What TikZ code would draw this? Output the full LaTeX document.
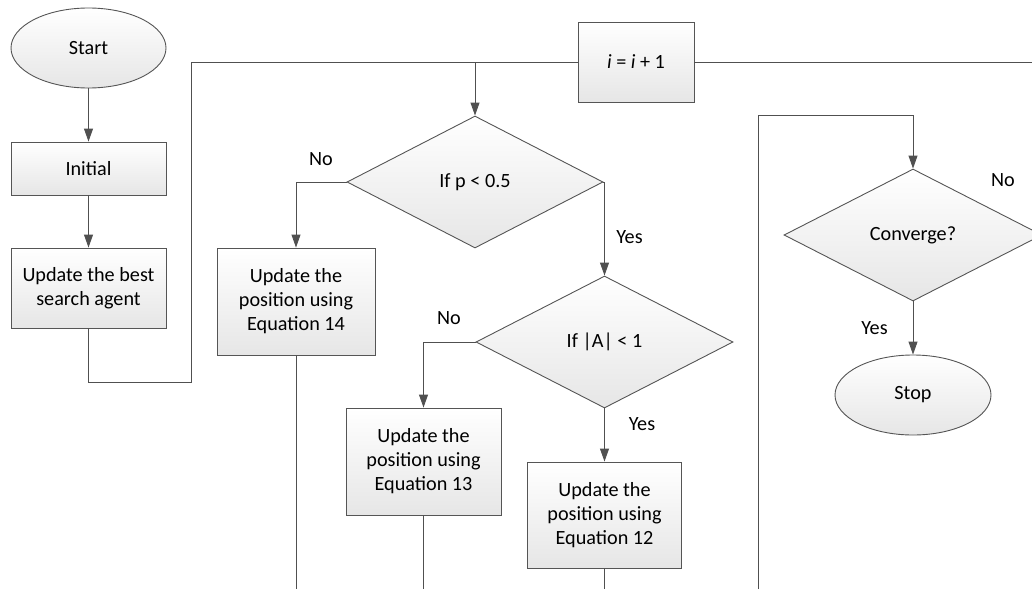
\documentclass[tikz,border=0pt]{standalone}
\usepackage{fontspec}
\setmainfont{Carlito}
\usetikzlibrary{shapes.geometric,arrows.meta}
\definecolor{edge}{HTML}{555555}
\definecolor{wire}{HTML}{505050}
\definecolor{fillbot}{HTML}{E6E6E6}
\tikzset{
  base/.style={draw=edge, line width=0.9pt, top color=white, bottom color=fillbot,
    inner sep=0pt, align=center, font=\fontsize{20.2}{24}\selectfont},
  boxnode/.style={base, rectangle},
  ovalnode/.style={base, ellipse},
  decnode/.style={base, diamond},
  wireline/.style={draw=wire, line width=0.9pt},
  arr/.style={wireline, -{Triangle[length=13pt,width=9pt]}},
  lbl/.style={font=\fontsize{20.2}{24}\selectfont, inner sep=0pt}
}
\begin{document}
\begin{tikzpicture}[x=1pt,y=-1pt]
\useasboundingbox (0,0) rectangle (1032,589);
% nodes
\node[ovalnode, minimum width=155pt, minimum height=80pt] (start) at (88.5,48) {Start};
\node[boxnode, minimum width=155pt, minimum height=53pt] (init) at (88.5,168.5) {Initial};
\node[boxnode, minimum width=155pt, minimum height=80pt] (best) at (88.5,288) {Update the best\\search agent};
\node[boxnode, minimum width=116pt, minimum height=80pt] (inc) at (636,62) {{\itshape i} = {\itshape i} + 1};
\node[decnode, minimum width=256pt, minimum height=132pt] (d1) at (475,182) {If p < 0.5};
\node[boxnode, minimum width=158pt, minimum height=107pt] (eq14) at (296,301.5) {Update the\\position using\\Equation 14};
\node[decnode, minimum width=257pt, minimum height=132pt] (d2) at (604.5,342) {If |A| < 1};
\node[boxnode, minimum width=155pt, minimum height=107pt] (eq13) at (423.5,461.5) {Update the\\position using\\Equation 13};
\node[boxnode, minimum width=154pt, minimum height=106pt] (eq12) at (604.5,515) {Update the\\position using\\Equation 12};
\node[decnode, minimum width=258pt, minimum height=132pt] (conv) at (913,235) {Converge?};
\node[ovalnode, minimum width=156pt, minimum height=80pt] (stop) at (913,395) {Stop};
% free ends
\coordinate (topright) at (1032,62);
\coordinate (b14) at (296,589);
\coordinate (b13) at (423.5,589);
\coordinate (b12) at (604.5,589);
\coordinate (bl) at (758,589);
\coordinate (lt) at (758,115);
\coordinate (loopA) at (88.5,382);
\coordinate (loopB) at (191,382);
\coordinate (loopC) at (191,62);
% connectors
\draw[arr] (start) -- (init);
\draw[arr] (init) -- (best);
\draw[wireline] (best.south) -- (loopA) -- (loopB) -- (loopC) -- (inc.west);
\draw[wireline] (inc.east) -- (topright);
\draw[arr] (d1.north |- inc.west) -- (d1.north);
\draw[arr] (d1.west) -| (eq14.north);
\draw[arr] (d1.east) -| (d2.north);
\draw[arr] (d2.west) -| (eq13.north);
\draw[arr] (d2.south) -- (eq12.north);
\draw[wireline] (eq14.south) -- (b14);
\draw[wireline] (eq13.south) -- (b13);
\draw[wireline] (eq12.south) -- (b12);
\draw[arr] (bl) -- (lt) -| (conv.north);
\draw[arr] (conv.south) -- (stop.north);
% labels
\node[lbl] (n1) at (321,159) {No};
\node[lbl] (y1) at (629.5,237) {Yes};
\node[lbl] (n2) at (449,318) {No};
\node[lbl] (y2) at (642,424) {Yes};
\node[lbl] (n3) at (1003,180) {No};
\node[lbl] (y3) at (874.5,328) {Yes};
\end{tikzpicture}
\end{document}
